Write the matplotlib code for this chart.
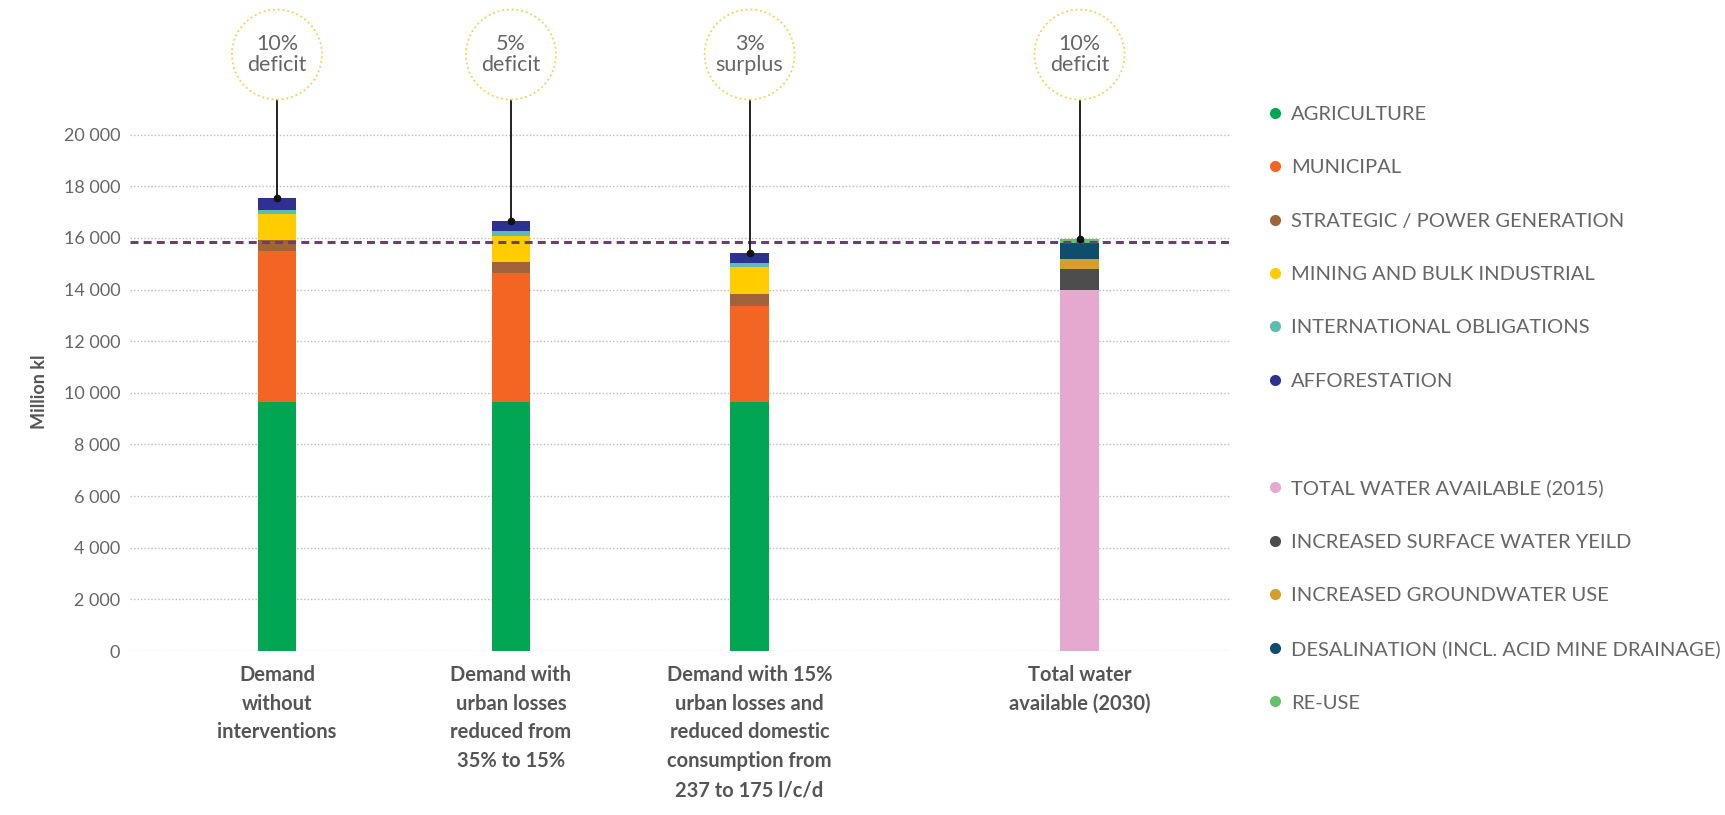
import matplotlib.pyplot as plt
from matplotlib.lines import Line2D

plt.rcParams['font.family'] = ['Lato', 'DejaVu Sans']

# Bar categories
categories = ["Demand\nwithout\ninterventions",
              "Demand with\nurban losses\nreduced from\n35% to 15%",
              "Demand with 15%\nurban losses and\nreduced domestic\nconsumption from\n237 to 175 l/c/d",
              "Total water\navailable (2030)"]

# Demand stacks (first three bars), million kl
agriculture = [9650, 9650, 9650]
municipal = [5850, 4980, 3730]
strategic = [420, 440, 440]
mining = [1010, 1000, 1050]
international = [160, 190, 170]
afforestation = [460, 390, 390]

# Supply stack (last bar)
total_2015 = [14000]
surface_water = [800]
groundwater = [380]
desalination = [620]
reuse = [150]

# Balance notes and the dashed reference line
notes = ["10%\ndeficit", "5%\ndeficit", "3%\nsurplus", "10%\ndeficit"]
reference_level = 15830

demand_names = ["AGRICULTURE", "MUNICIPAL", "STRATEGIC / POWER GENERATION",
                "MINING AND BULK INDUSTRIAL", "INTERNATIONAL OBLIGATIONS", "AFFORESTATION"]
supply_names = ["TOTAL WATER AVAILABLE (2015)", "INCREASED SURFACE WATER YEILD",
                "INCREASED GROUNDWATER USE", "DESALINATION (INCL. ACID MINE DRAINAGE)", "RE-USE"]

demand_colors = ["#00a651", "#f26522", "#a0633a", "#ffcc00", "#5bbcb0", "#2e3192"]
supply_colors = ["#e5a9cf", "#4d4d4d", "#d4a02a", "#0e4d6b", "#6abf69"]

# layout
xpos = [0, 1, 2.02, 3.43]
bar_w = 0.165
txt = "#666666"

fig = plt.figure(figsize=(17.25, 8.15), dpi=100)
ax = fig.add_axes([130 / 1725, 164 / 815, 1100 / 1725, 645.5 / 815])
ax.set_xlim(-0.628, 4.073)
ax.set_ylim(0, 25000)

# demand bars
demand = [agriculture, municipal, strategic, mining, international, afforestation]
bottom = [0, 0, 0]
for vals, col in zip(demand, demand_colors):
    ax.bar(xpos[:3], vals, bar_w, bottom=bottom, color=col, zorder=3)
    bottom = [b + v for b, v in zip(bottom, vals)]
tops = list(bottom)

# supply bar
supply = [total_2015, surface_water, groundwater, desalination, reuse]
sb = [0]
for vals, col in zip(supply, supply_colors):
    ax.bar(xpos[3:], vals, bar_w, bottom=sb, color=col, zorder=3)
    sb = [b + v for b, v in zip(sb, vals)]
tops += sb

# dashed line
ax.axhline(reference_level, color="#6b3d70", linestyle=(0, (2.6, 1.7)), linewidth=2.2, zorder=4)

# circles with notes
circle_y = 23100
line_top = 21350
for x, t, note in zip(xpos, tops, notes):
    ax.plot([x, x], [t, line_top], color="#222222", linewidth=1.4, zorder=5, clip_on=False)
    ax.plot(x, t, 'o', color="#111111", markersize=4.5, zorder=6)
    ax.scatter([x], [circle_y], s=4200, facecolors="white", edgecolors="#f7d14a",
               linewidths=1.3, linestyles=":", zorder=5, clip_on=False)
    ax.text(x, circle_y, note, ha="center", va="center", fontsize=15.5, color=txt,
            linespacing=1.05, zorder=6)

# axes styling
ax.set_yticks(range(0, 20001, 2000))
ax.set_yticklabels([f"{v:,}".replace(",", " ") for v in range(0, 20001, 2000)])
ax.yaxis.grid(True, linestyle=(0, (1, 1.5)), color="#bbbbbb", linewidth=1, zorder=0)
ax.tick_params(axis="y", length=0, pad=7, labelsize=13, labelcolor=txt)
ax.set_xticks(xpos)
ax.set_xticklabels(categories, fontsize=14.5, fontweight="bold", color="#555555", linespacing=1.55)
ax.tick_params(axis="x", length=0, pad=10)
for s in ax.spines.values():
    s.set_visible(False)
ax.set_ylabel("Million kl", fontsize=13, fontweight="bold", color="#555555")
ax.yaxis.set_label_coords(-0.0745, 0.401)

# legend
handles = []
labels = []
for n, c in zip(demand_names, demand_colors):
    handles.append(Line2D([], [], marker="o", linestyle="none", color=c, markersize=7))
    labels.append(n)
handles.append(Line2D([], [], linestyle="none"))
labels.append("")
for n, c in zip(supply_names, supply_colors):
    handles.append(Line2D([], [], marker="o", linestyle="none", color=c, markersize=7))
    labels.append(n)
leg = ax.legend(handles, labels, loc="upper left", bbox_to_anchor=(1269 / 1725, 1 - 106 / 815),
                bbox_transform=fig.transFigure, frameon=False, fontsize=14.5, labelspacing=1.8,
                handlelength=0.6, handletextpad=0.5, borderpad=0, borderaxespad=0)
for t in leg.get_texts():
    t.set_color(txt)

plt.savefig("out.png", dpi=100)
plt.close()
